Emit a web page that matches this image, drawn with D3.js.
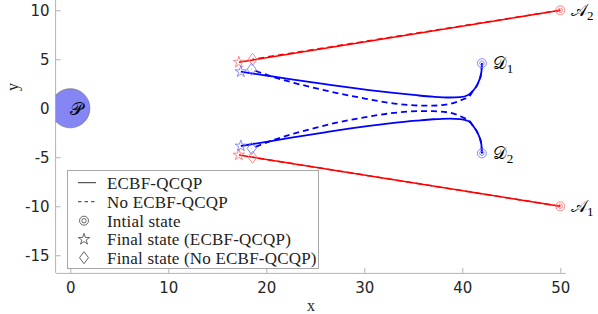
<!DOCTYPE html>
<html><head><meta charset="utf-8">
<script src="https://cdn.jsdelivr.net/npm/d3@7"></script>
<style>body{margin:0;background:#fff}svg{display:block}.serif{font-family:"Liberation Serif","Times New Roman","DejaVu Serif",serif}</style>
</head><body>
<svg id="c" width="598" height="314"></svg>
<script>
// ---- data ----
const xTicks = [0, 10, 20, 30, 40, 50];
const yTicks = [10, 5, 0, -5, -10, -15];
// Agents A1, A2 (red): initial states and final states
const redStart = [[50, -10], [50, 10]];
const redSolid = [[[50, -10], [17.2, -4.77]], [[50, 10], [17.2, 4.7]]];
const redDashed = [[[50, -10], [18.6, -5.0]], [[50, 10], [18.6, 5.0]]];
// Agents D1, D2 (blue)
const blueStart = [[42, 4.6], [42, -4.6]];
const blueSolidD1 = [[42,4.6],[41.95,3.7],[41.6,2.55],[41.1,1.8],[40.6,1.35],[39.8,1.13],[38.7,1.1],[37,1.18],[35.3,1.33],[33,1.57],[30.5,1.86],[28.6,2.1],[26,2.46],[22.4,2.98],[20,3.34],[17.4,3.73]];
const blueDashedD1 = [[42,4.6],[41.95,3.7],[41.6,2.55],[41.1,1.8],[40.7,1.2],[40.1,0.92],[38.7,0.44],[37,0.27],[35.5,0.28],[33.7,0.41],[31.5,0.72],[29.6,1.08],[27.5,1.5],[25,2.05],[22.8,2.6],[21,3.1],[19.5,3.6],[18.5,3.98]];
const blueSolidD2 = [[42,-4.6],[41.95,-3.7],[41.6,-2.6],[41.1,-1.8],[40.6,-1.3],[39.8,-1.1],[38.7,-1.05],[37,-1.12],[35.3,-1.27],[33,-1.5],[30.5,-1.8],[28.6,-2.06],[26,-2.45],[22.4,-3.02],[20,-3.42],[17.4,-3.85]];
const blueDashedD2 = [[42,-4.6],[41.95,-3.7],[41.6,-2.6],[41.1,-1.8],[40.7,-1.25],[40.1,-0.95],[38.7,-0.45],[37,-0.3],[35.5,-0.3],[33.7,-0.4],[31.5,-0.68],[29.6,-1.0],[27.5,-1.4],[25,-2.0],[22.8,-2.6],[21,-3.15],[19.5,-3.7],[18.5,-4.1]];
const obstacle = {x: 0, y: 0, r: 2, label: "𝒫"};
const agentLabels = [
  {x: 51.1, y: 10, base: "𝒜", sub: "2"},
  {x: 51.1, y: -10, base: "𝒜", sub: "1"},
  {x: 43.1, y: 4.6, base: "𝒟", sub: "1"},
  {x: 43.1, y: -4.6, base: "𝒟", sub: "2"}
];
const legendItems = ["ECBF-QCQP", "No ECBF-QCQP", "Intial state", "Final state (ECBF-QCQP)", "Final state (No ECBF-QCQP)"];

// ---- scales ----
const svg = d3.select("#c");
const x = d3.scaleLinear().domain([-1.5, 50.5]).range([55.6, 565.2]);
const y = d3.scaleLinear().domain([-16.8, 11]).range([272.9, 0.46]);
const axisCol = "#b3b3b3", txtCol = "#262626";

svg.append("clipPath").attr("id","clip").append("rect")
  .attr("x", x(-1.5)).attr("y", 0).attr("width", x(50.5)-x(-1.5)).attr("height", y(-16.8));

// axes
const gx = svg.append("g").attr("transform", `translate(0,${y(-16.8)})`)
  .call(d3.axisBottom(x).tickValues(xTicks).tickSizeInner(-5).tickSizeOuter(0).tickPadding(9));
const gy = svg.append("g").attr("transform", `translate(${x(-1.5)},0)`)
  .call(d3.axisLeft(y).tickValues(yTicks).tickSizeInner(-5).tickSizeOuter(0).tickPadding(6).tickFormat(d => String(d)));
[gx, gy].forEach(g => {
  g.select(".domain").attr("stroke", axisCol);
  g.selectAll(".tick line").attr("stroke", axisCol);
  g.selectAll(".tick text").attr("fill", txtCol).style("font-family", "DejaVu Sans").style("font-size", "15px");
});
gy.select(".domain").attr("d", `M0,${y(-16.8)}V0`);

svg.append("text").attr("class","serif").attr("x", 311).attr("y", 311).attr("text-anchor","middle")
  .style("font-size","16px").attr("fill", txtCol).text("x");
svg.append("text").attr("class","serif").attr("transform","translate(18,87) rotate(-90)").attr("text-anchor","middle")
  .style("font-size","16px").attr("fill", txtCol).text("y");

const plot = svg.append("g").attr("clip-path","url(#clip)");

// obstacle
plot.append("circle").attr("cx", x(obstacle.x)).attr("cy", y(obstacle.y)).attr("r", x(obstacle.r)-x(0))
  .attr("fill", "#8585f3").attr("stroke", "#666").attr("stroke-width", 0.6);
svg.append("text").attr("x", x(obstacle.x)).attr("y", y(obstacle.y)).attr("dy","0.35em")
  .style("font-family","DejaVu Serif").style("font-size","18px").text(obstacle.label);

const line = d3.line().x(d => x(d[0])).y(d => y(d[1])).curve(d3.curveMonotoneX);
const sline = d3.line().x(d => x(d[0])).y(d => y(d[1]));
const dash = "6,4";
redSolid.forEach(p => plot.append("path").attr("d", sline(p)).attr("fill","none").attr("stroke","#ff0000").attr("stroke-width",1.5));
redDashed.forEach(p => plot.append("path").attr("d", sline(p)).attr("fill","none").attr("stroke","#ff0000").attr("stroke-width",1.5).attr("stroke-dasharray",dash));
[blueSolidD1, blueSolidD2].forEach(p => plot.append("path").attr("d", line(p)).attr("fill","none").attr("stroke","#0000ff").attr("stroke-width",1.8));
[blueDashedD1, blueDashedD2].forEach(p => plot.append("path").attr("d", line(p)).attr("fill","none").attr("stroke","#0000ff").attr("stroke-width",1.8).attr("stroke-dasharray",dash));

// markers
const star = d3.symbol().type(d3.symbolStar).size(40);
function diamond(cx, cy){ return `M${cx},${cy-6}L${cx+4.5},${cy}L${cx},${cy+6}L${cx-4.5},${cy}Z`; }
function initMarker(g, cx, cy, col){
  g.append("circle").attr("cx",cx).attr("cy",cy).attr("r",4.5).attr("fill","none").attr("stroke",col).attr("stroke-width",0.9);
  g.append("circle").attr("cx",cx).attr("cy",cy).attr("r",2.2).attr("fill","none").attr("stroke",col).attr("stroke-width",0.9);
}
const redL = "#ff7a7a", blueL = "#7a7aff";
redStart.forEach(p => initMarker(plot, x(p[0]), y(p[1]), redL));
blueStart.forEach(p => initMarker(plot, x(p[0]), y(p[1]), blueL));
redSolid.forEach(p => { const e = p[p.length-1]; plot.append("path").attr("d", star()).attr("transform",`translate(${x(e[0])},${y(e[1])})`).attr("fill","none").attr("stroke",redL).attr("stroke-width",0.9); });
redDashed.forEach(p => { const e = p[p.length-1]; plot.append("path").attr("d", diamond(x(e[0]), y(e[1]))).attr("fill","none").attr("stroke",redL).attr("stroke-width",0.9); });
[blueSolidD1, blueSolidD2].forEach(p => { const e = p[p.length-1]; plot.append("path").attr("d", star()).attr("transform",`translate(${x(e[0])},${y(e[1])})`).attr("fill","none").attr("stroke",blueL).attr("stroke-width",0.9); });
[blueDashedD1, blueDashedD2].forEach(p => { const e = p[p.length-1]; plot.append("path").attr("d", diamond(x(e[0]), y(e[1]))).attr("fill","none").attr("stroke",blueL).attr("stroke-width",0.9); });

// agent labels
agentLabels.forEach(l => {
  const t = svg.append("text").attr("x", x(l.x)).attr("y", y(l.y)).attr("dy","0.35em")
    .style("font-family","DejaVu Serif").style("font-size","17px").attr("fill","#000");
  t.append("tspan").text(l.base);
  t.append("tspan").attr("class","serif").attr("dy","4").style("font-size","13px").text(l.sub);
});

// legend
const lg = svg.append("g");
lg.append("rect").attr("x",67.5).attr("y",170.5).attr("width",251).attr("height",98)
  .attr("fill","#fff").attr("stroke","#a6a6a6").attr("stroke-width",1);
const rowY = [182.7, 201.7, 220.7, 239.3, 257.7];
const lgCol = "#555";
lg.append("line").attr("x1",78).attr("x2",96).attr("y1",rowY[0]).attr("y2",rowY[0]).attr("stroke","#333").attr("stroke-width",1);
lg.append("line").attr("x1",78).attr("x2",96).attr("y1",rowY[1]).attr("y2",rowY[1]).attr("stroke","#333").attr("stroke-width",1).attr("stroke-dasharray","3.5,3");
initMarker(lg, 84, rowY[2], lgCol);
lg.append("path").attr("d", star()).attr("transform",`translate(84,${rowY[3]})`).attr("fill","none").attr("stroke",lgCol).attr("stroke-width",0.9);
lg.append("path").attr("d", diamond(84, rowY[4])).attr("fill","none").attr("stroke",lgCol).attr("stroke-width",0.9);
legendItems.forEach((s,i) => lg.append("text").attr("class","serif").attr("x",107).attr("y",rowY[i]).attr("dy","0.35em")
  .style("font-size","17px").style("letter-spacing","0.2px").attr("fill","#222").text(s));
</script>
</body></html>
